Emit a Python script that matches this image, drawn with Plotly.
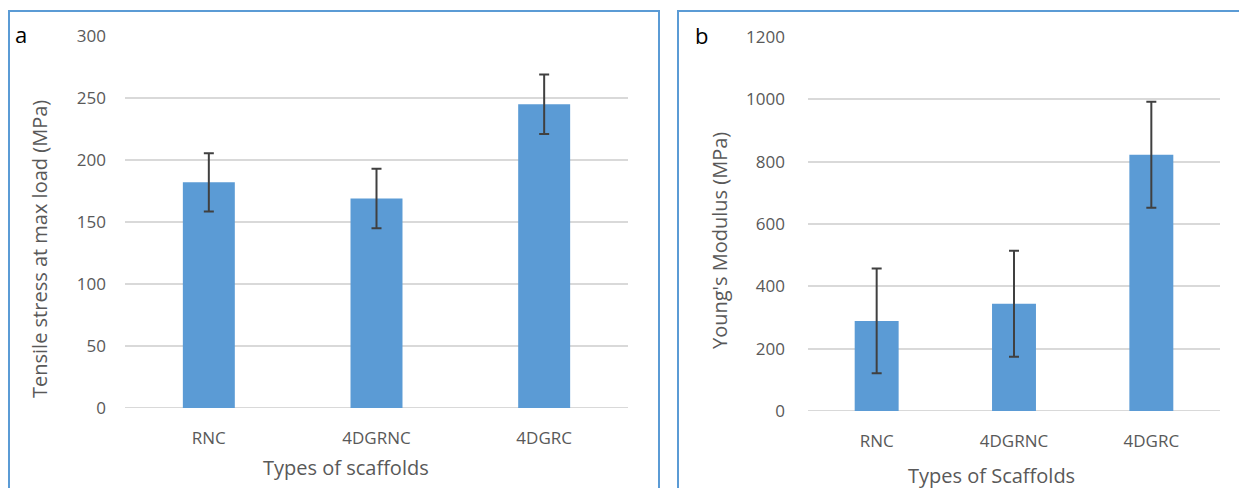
import plotly.graph_objects as go

categories = ["RNC", "4DGRNC", "4DGRC"]
tensile = [182, 169, 245]
tensile_err = [23.5, 24, 24]
modulus = [289, 344, 822]
modulus_err = [168, 170, 170]

W, H = 1239, 488
def px(x): return x / W
def py(y): return (H - y) / H

blue = "#5B9BD5"
grid = "#D9D9D9"
tick_col = "#595959"
FONT = "Open Sans"

fig = go.Figure()
fig.add_trace(go.Bar(x=categories, y=tensile, marker=dict(color=blue, line=dict(width=0)), width=0.31,
                     error_y=dict(type="data", array=tensile_err, color="#404040", thickness=2, width=5),
                     xaxis="x", yaxis="y", showlegend=False))
fig.add_trace(go.Bar(x=categories, y=modulus, marker=dict(color=blue, line=dict(width=0)), width=0.32,
                     error_y=dict(type="data", array=modulus_err, color="#404040", thickness=2, width=5),
                     xaxis="x2", yaxis="y2", showlegend=False))

axis_common = dict(showline=False, zeroline=False, ticks="", automargin=False,
                   tickfont=dict(family=FONT, size=17, color=tick_col))
fig.update_layout(
    width=W, height=H, margin=dict(l=0, r=0, t=0, b=0, autoexpand=False),
    paper_bgcolor="white", plot_bgcolor="white",
    xaxis=dict(domain=[px(125), px(628)], anchor="y", showgrid=False, ticklabelstandoff=18, **axis_common),
    yaxis=dict(domain=[py(408), py(36)], anchor="x", range=[0, 300], tickvals=[0, 50, 100, 150, 200, 250, 300],
               showgrid=True, gridcolor=grid, gridwidth=2, ticklabelstandoff=18, **axis_common),
    xaxis2=dict(domain=[px(808), px(1220)], anchor="y2", showgrid=False, ticklabelstandoff=18, **axis_common),
    yaxis2=dict(domain=[py(411), py(37)], anchor="x2", range=[0, 1200], tickvals=[0, 200, 400, 600, 800, 1000, 1200],
                showgrid=True, gridcolor=grid, gridwidth=2, ticklabelstandoff=22, **axis_common),
)
# zero lines as grid
for yref, xd in (("y", (125, 628)), ("y2", (808, 1220))):
    fig.add_shape(type="line", xref="paper", yref=yref, x0=px(xd[0]), x1=px(xd[1]), y0=0, y1=0,
                  line=dict(color=grid, width=2), layer="below")

# panel borders
fig.add_shape(type="rect", xref="paper", yref="paper", x0=px(9), x1=px(659), y0=py(11), y1=-0.1,
              line=dict(color=blue, width=2))
fig.add_shape(type="rect", xref="paper", yref="paper", x0=px(678), x1=1.1, y0=py(11), y1=-0.1,
              line=dict(color=blue, width=2))

ann = [
    dict(text="a", x=px(21), y=py(34), font=dict(size=22, color="black")),
    dict(text="b", x=px(701), y=py(35), font=dict(size=22, color="black")),
    dict(text="Tensile stress at max load (MPa)", x=px(39), y=py(249), textangle=-90,
         font=dict(size=20, color=tick_col)),
    dict(text="Types of scaffolds", x=px(346), y=py(467), font=dict(size=20, color=tick_col)),
    dict(text="Young's Modulus (MPa)", x=px(719), y=py(240), textangle=-90,
         font=dict(size=20, color=tick_col)),
    dict(text="Types of Scaffolds", x=px(991), y=py(475), font=dict(size=20, color=tick_col)),
]
for a in ann:
    a.update(xref="paper", yref="paper", showarrow=False, xanchor="center", yanchor="middle")
    a["font"]["family"] = FONT
    fig.add_annotation(**a)

fig.write_html("out.html")
